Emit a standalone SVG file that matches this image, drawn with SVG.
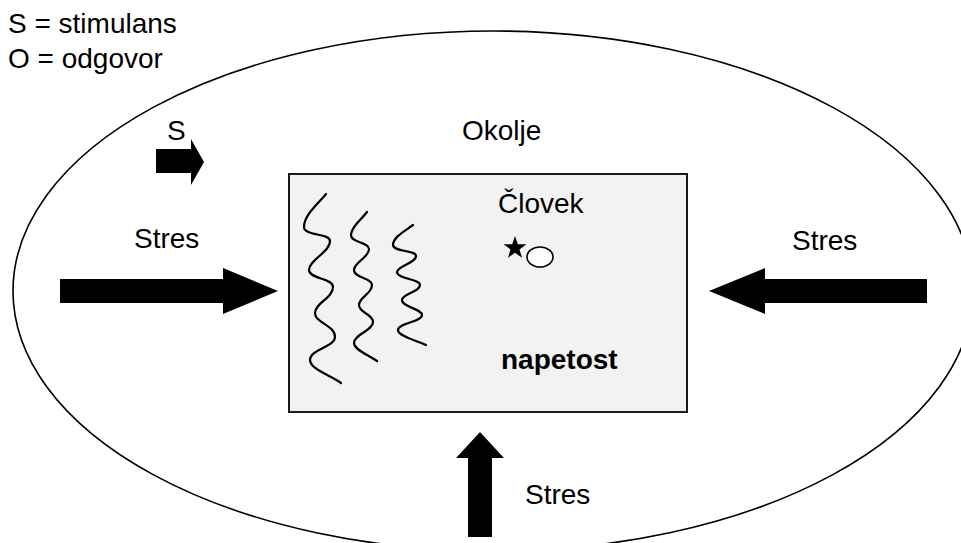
<svg xmlns="http://www.w3.org/2000/svg" width="961" height="543" viewBox="0 0 961 543">
  <style>
    .t { font-family: "Liberation Sans", Arial, sans-serif; font-size: 28px; fill: #000; }
    .b { font-weight: bold; }
    .arrow { fill: #000; stroke: none; }
    .wave { fill: none; stroke: #000; stroke-width: 2.2; stroke-linecap: round; }
  </style>
  <rect width="961" height="543" fill="#fff"/>

  <!-- legend -->
  <g id="legend">
    <text class="t" x="8" y="33">S = stimulans</text>
    <text class="t" x="8" y="68">O = odgovor</text>
  </g>

  <!-- environment -->
  <g id="okolje">
    <ellipse cx="493" cy="291" rx="480" ry="260" fill="none" stroke="#000" stroke-width="1.6"/>
    <text class="t" x="462" y="140">Okolje</text>
  </g>

  <!-- person box -->
  <g id="clovek">
    <rect x="289" y="174" width="398" height="238" fill="#f2f2f2" stroke="#1a1a1a" stroke-width="2"/>
    <path class="wave" d="M326,194 C318,204 304,215 304,227 C304,236 330,233 330,241 C330,252 309,260 309,270 C309,279 333,278 333,287 C333,298 315,303 315,313 C315,323 335,325 335,337 C335,347 310,349 310,360 C310,369 330,375 341,383"/>
    <path class="wave" d="M367,212 C361,220 351,227 351,235 C351,243 369,242 369,249 C369,258 354,262 354,270 C354,278 372,278 372,285 C372,294 359,297 359,305 C359,313 373,314 373,322 C373,331 354,334 354,343 C354,350 369,355 377,361"/>
    <path class="wave" d="M413,225 C405,231 393,237 393,245 C393,252 416,250 416,256 C416,263 397,266 397,272 C397,279 420,279 420,285 C420,292 402,294 402,300 C402,307 422,309 422,315 C422,322 398,323 398,330 C398,336 415,340 426,345"/>
    <text class="t" x="498" y="213">Človek</text>
    <polygon fill="#000" points="515,236 517.8,244.2 526.4,244.3 519.5,249.5 522,257.7 515,252.8 508,257.7 510.5,249.5 503.6,244.3 512.2,244.2"/>
    <ellipse cx="540" cy="257" rx="13" ry="10" fill="#fff" stroke="#000" stroke-width="1.6"/>
    <text class="t b" x="501" y="369">napetost</text>
  </g>

  <!-- stimulus marker -->
  <g id="stimulans">
    <text class="t" x="167" y="140">S</text>
  </g>

  <!-- stress labels -->
  <g id="stres-levo"><text class="t" x="134" y="248">Stres</text></g>
  <g id="stres-desno"><text class="t" x="792" y="250">Stres</text></g>
  <g id="stres-spodaj"><text class="t" x="525" y="504">Stres</text></g>

  <!-- connectors: block arrows -->
  <g id="connectors">
    <polygon class="arrow" points="156,149 191,149 191,139 204,162 191,185 191,173 156,173"/>
    <polygon class="arrow" points="60,279 223,279 223,268 278,291 223,314 223,303 60,303"/>
    <polygon class="arrow" points="927,279 765,279 765,268 709,291 765,314 765,303 927,303"/>
    <polygon class="arrow" points="468,537 468,458 456,458 480,432 504,458 492,458 492,537"/>
  </g>
</svg>
